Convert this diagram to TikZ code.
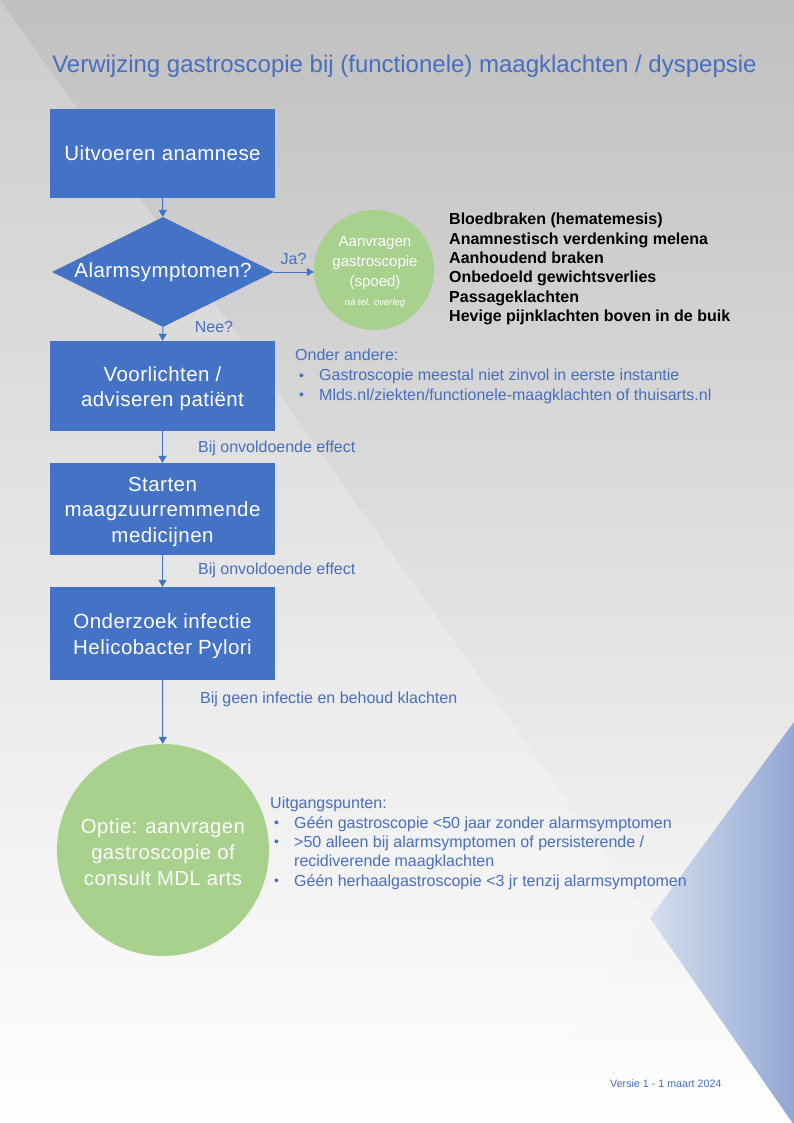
\documentclass[tikz,border=0pt]{standalone}
\usepackage{fontspec}
\setmainfont{Liberation Sans}
\newfontfamily\spacedfont[LetterSpace=2.2]{Liberation Sans}
\usetikzlibrary{arrows.meta,shapes.geometric}
\definecolor{boxblue}{RGB}{68,114,196}
\definecolor{txtblue}{RGB}{72,110,190}
\definecolor{green1}{RGB}{169,209,142}
\definecolor{bgtop}{RGB}{192,192,192}
\definecolor{trilight}{RGB}{214,222,238}
\definecolor{tridark}{RGB}{145,168,212}
\tikzset{
  stepbox/.style={rectangle, fill=boxblue, text=white, minimum width=225pt, minimum height=90pt, inner sep=0pt, align=center, font=\spacedfont\fontsize{20.5}{25.5}\selectfont},
  decide/.style={diamond, fill=boxblue, text=white, minimum width=222pt, minimum height=110pt, inner sep=0pt, aspect=2, font=\spacedfont\fontsize{20.5}{24}\selectfont},
  bubble/.style={circle, fill=green1, inner sep=0pt},
  conn/.style={draw=boxblue, line width=1pt, -{Triangle[length=7pt,width=8pt]}},
  lbl/.style={text=txtblue, font=\fontsize{16}{19.5}\selectfont, inner sep=0pt},
  note/.style={text=txtblue, font=\fontsize{16}{19.8}\selectfont, inner sep=0pt, align=left, anchor=north west},
}
\newcommand{\bul}[1]{\makebox[20pt][l]{\raisebox{0.5pt}{\fontsize{14}{14}\selectfont\textbullet}}#1}
\begin{document}
\begin{tikzpicture}[x=1pt,y=-1pt]
\useasboundingbox (0,0) rectangle (794,1123);
% background
\shade[top color=bgtop, bottom color=white] (0,0) rectangle (794,1123);
\fill[white, opacity=0.2] (0,0) -- (650,918) -- (0,1836) -- cycle;
\shade[left color=trilight, right color=tridark] (650,918) -- (794,722) -- (794,1125) -- cycle;
% title
\node[text=txtblue, font=\fontsize{24}{28}\selectfont, inner sep=0pt] (title) at (404.5,66) {Verwijzing gastroscopie bij (functionele) maagklachten / dyspepsie};
% flow
\node[stepbox, minimum height=89pt] (anam) at (162.5,153.5) {\raisebox{-2pt}{Uitvoeren anamnese}};
\node[decide] (alarm) at (163,272) {\raisebox{-2pt}{Alarmsymptomen?}};
\node[bubble, minimum size=120pt] (req) at (374,270) {};
\node[text=white, align=center, inner sep=0pt, font=\fontsize{15}{20}\selectfont] (reqtxt) at (375,272) {Aanvragen\\gastroscopie\\(spoed)\\[-1pt]{\fontsize{9.5}{12}\selectfont\itshape ná tel. overleg}};
\node[stepbox] (advise) at (162.5,386) {};
\node[text=white, align=center, inner sep=0pt, font=\spacedfont\fontsize{20.5}{25}\selectfont] (advtxt) at (162.5,388.5) {Voorlichten /\\adviseren patiënt};
\node[stepbox, minimum height=92pt] (med) at (162.5,509) {};
\node[text=white, align=center, inner sep=0pt, font=\spacedfont\fontsize{20.5}{25.5}\selectfont] (medtxt) at (162.5,511.5) {Starten\\maagzuurremmende\\medicijnen};
\node[stepbox, minimum height=93pt] (hp) at (162.5,633.5) {};
\node[text=white, align=center, inner sep=0pt, font=\spacedfont\fontsize{20.5}{25.5}\selectfont] (hptxt) at (162.5,636) {Onderzoek infectie\\Helicobacter Pylori};
\node[bubble, minimum size=212pt] (mdl) at (163,850) {};
\node[text=white, align=center, inner sep=0pt, font=\spacedfont\fontsize{20.3}{26}\selectfont] (mdltxt) at (163,852) {Optie: aanvragen\\gastroscopie of\\consult MDL arts};
% connectors
\draw[conn] (anam) -- (alarm);
\draw[conn] (alarm.east) -- (req.west |- alarm.east);
\draw[conn] (alarm.south) -- (advise.north);
\draw[conn] (advise) -- (med);
\draw[conn] (med) -- (hp);
\draw[conn] (hp) -- (mdl);
% labels
\node[lbl] (ja) at (293.5,259) {Ja?};
\node[lbl] (nee) at (214,327) {Nee?};
\node[lbl, anchor=west] (eff1) at (198,448) {Bij onvoldoende effect};
\node[lbl, anchor=west] (eff2) at (198,570) {Bij onvoldoende effect};
\node[lbl, anchor=west] (geen) at (200,699) {Bij geen infectie en behoud klachten};
% alarm list
\node[anchor=west, align=left, inner sep=0pt, font=\bfseries\fontsize{16}{19.3}\selectfont] (alist) at (449,269) {Bloedbraken (hematemesis)\\Anamnestisch verdenking melena\\Aanhoudend braken\\Onbedoeld gewichtsverlies\\Passageklachten\\Hevige pijnklachten boven in de buik};
% notes
\node[note] (onder) at (295,349) {Onder andere:\\\hspace*{4pt}\bul{Gastroscopie meestal niet zinvol in eerste instantie}\\\hspace*{4pt}\bul{Mlds.nl/ziekten/functionele-maagklachten of thuisarts.nl}};
\node[note, font=\fontsize{16}{19.3}\selectfont] (uitg) at (270,797) {Uitgangspunten:\\\hspace*{4pt}\bul{Géén gastroscopie <50 jaar zonder alarmsymptomen}\\\hspace*{4pt}\bul{>50 alleen bij alarmsymptomen of persisterende /}\\\hspace*{24pt}recidiverende maagklachten\\\hspace*{4pt}\bul{Géén herhaalgastroscopie <3 jr tenzij alarmsymptomen}};
\node[text=txtblue, font=\fontsize{10.7}{13}\selectfont, inner sep=0pt, anchor=west] (versie) at (610,1084) {Versie 1 - 1 maart 2024};
\end{tikzpicture}
\end{document}
